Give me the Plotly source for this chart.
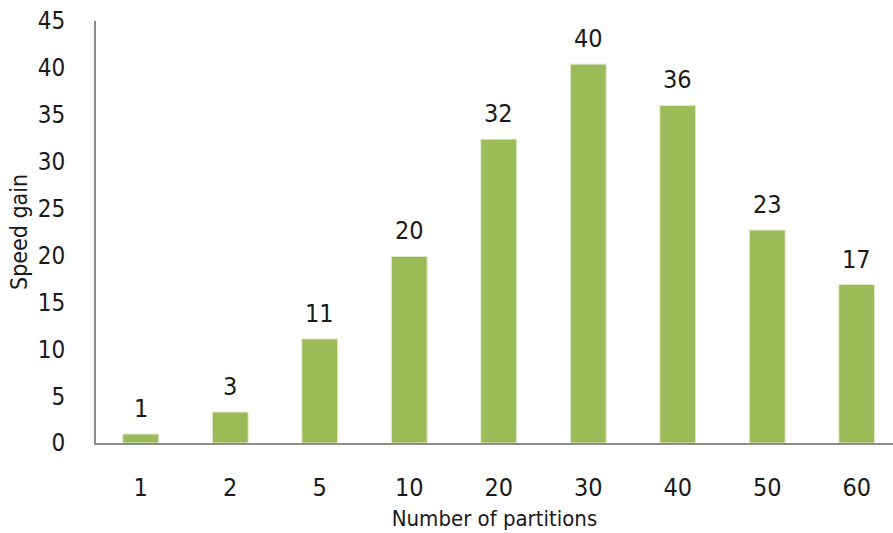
import plotly.graph_objects as go

# Speed gain measured for each number of partitions
partitions = ["1", "2", "5", "10", "20", "30", "40", "50", "60"]
speed_gain = [0.96, 3.3, 11.1, 19.9, 32.4, 40.4, 36.0, 22.7, 16.9]

y_ticks = [0, 5, 10, 15, 20, 25, 30, 35, 40, 45]

FONT = "DejaVu Sans Condensed, Liberation Sans Narrow, sans-serif"
BAR_COLOR = "#9BBB59"
TEXT_COLOR = "#1a1a1a"
AXIS_COLOR = "#8c8c8c"

x_pos = list(range(len(partitions)))

fig = go.Figure()
fig.add_trace(go.Bar(
    x=x_pos,
    y=speed_gain,
    width=0.4,
    marker=dict(color=BAR_COLOR, line=dict(color="#dfe9c9", width=1)),
    hoverinfo="x+y",
))

# value labels above each bar, rounded from the bar's own value
for xi, v in zip(x_pos, speed_gain):
    fig.add_annotation(
        x=xi, y=v, text=f"{v:.0f}", showarrow=False,
        yanchor="bottom", yshift=9,
        font=dict(family=FONT, size=25, color=TEXT_COLOR),
    )

# vertical axis title, placed just left of the tick labels
fig.add_annotation(
    text="Speed gain", textangle=-90, showarrow=False,
    xref="paper", yref="paper", x=0, y=0.5,
    xanchor="center", yanchor="middle", xshift=-77,
    font=dict(family=FONT, size=23, color=TEXT_COLOR),
)

fig.update_layout(
    width=893, height=533,
    margin=dict(l=96, r=0, t=21, b=90),
    paper_bgcolor="white", plot_bgcolor="white",
    showlegend=False,
    font=dict(family=FONT, size=25, color=TEXT_COLOR),
    bargap=0.6,
)

fig.update_xaxes(
    range=[-0.5, 8.405],
    tickmode="array", tickvals=x_pos, ticktext=partitions,
    showgrid=False, zeroline=False,
    showline=True, linecolor=AXIS_COLOR, linewidth=2,
    ticks="outside", ticklen=21, tickcolor="rgba(0,0,0,0)",
    tickfont=dict(family=FONT, size=25, color=TEXT_COLOR),
    title=dict(text="Number of partitions", standoff=10,
               font=dict(family=FONT, size=22, color=TEXT_COLOR)),
)

fig.update_yaxes(
    range=[0, 45],
    tickmode="array", tickvals=y_ticks,
    showgrid=False, zeroline=False,
    showline=True, linecolor=AXIS_COLOR, linewidth=2,
    ticks="outside", ticklen=24, tickcolor="rgba(0,0,0,0)",
    tickfont=dict(family=FONT, size=24, color=TEXT_COLOR),
)

fig.write_html("out.html")
